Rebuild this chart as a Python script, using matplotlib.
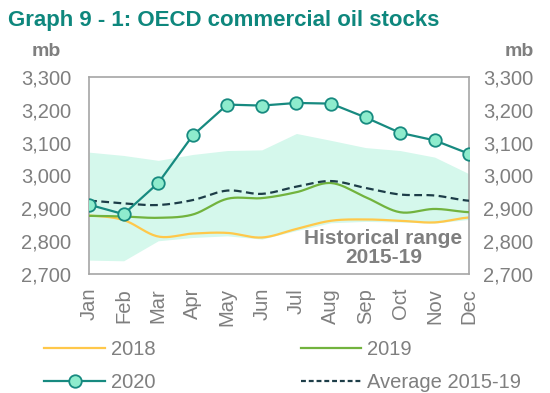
import numpy as np
import matplotlib
matplotlib.use("Agg")
import matplotlib.pyplot as plt
from matplotlib.lines import Line2D

plt.rcParams['font.family'] = ['Liberation Sans', 'DejaVu Sans']

# data (mb)
months = ['Jan', 'Feb', 'Mar', 'Apr', 'May', 'Jun', 'Jul', 'Aug', 'Sep', 'Oct', 'Nov', 'Dec']
range_hi = [3071, 3061, 3046, 3064, 3076, 3078, 3128, 3107, 3085, 3076, 3056, 3005]
range_lo = [2742, 2740, 2801, 2811, 2816, 2806, 2832, 2856, 2860, 2858, 2855, 2866]
y2018 = [2878, 2864, 2814, 2823, 2825, 2811, 2837, 2862, 2866, 2862, 2857, 2872]
y2019 = [2877, 2875, 2871, 2881, 2929, 2931, 2949, 2977, 2934, 2888, 2898, 2888]
y2020 = [2911, 2882, 2977, 3122, 3216, 3213, 3221, 3219, 3177, 3130, 3107, 3066]
avg = [2923, 2915, 2910, 2925, 2954, 2944, 2966, 2983, 2962, 2942, 2939, 2923]

teal = '#178a80'
grey = '#7f7f7f'
fs = 14.5


def smooth(vals, n=20):
    # catmull-rom curve through the points, like excel smoothed lines
    p = np.array(vals, dtype=float)
    p = np.concatenate([[p[0]], p, [p[-1]]])
    xs, ys = [], []
    for i in range(1, len(p) - 2):
        t = np.linspace(0, 1, n, endpoint=False)
        p0, p1, p2, p3 = p[i - 1], p[i], p[i + 1], p[i + 2]
        yy = 0.5 * (2 * p1 + (-p0 + p2) * t + (2 * p0 - 5 * p1 + 4 * p2 - p3) * t ** 2
                    + (-p0 + 3 * p1 - 3 * p2 + p3) * t ** 3)
        xs.extend(i - 1 + t)
        ys.extend(yy)
    xs.append(len(vals) - 1)
    ys.append(vals[-1])
    return np.array(xs), np.array(ys)


fig = plt.figure(figsize=(5.5, 3.93), dpi=100)
ax = fig.add_axes([0.162, 0.303, 0.691, 0.501])
x = np.arange(len(months))

ax.fill_between(x, range_lo, range_hi, color='#d5f8ec', lw=0, zorder=1)
sx, sy = smooth(y2018)
ax.plot(sx, sy, color='#ffc84a', lw=1.6, zorder=2)
sx, sy = smooth(y2019)
ax.plot(sx, sy, color='#72b33e', lw=1.6, zorder=3)
sx, sy = smooth(avg)
ax.plot(sx, sy, color='#1d3d48', lw=1.6, ls=(0, (3.5, 2)), zorder=4)
ax.plot(x, y2020, color=teal, lw=1.6, marker='o', ms=9, mfc='#8eeccd', mec=teal, mew=1.3, zorder=5)

ax.text(8.52, 2780, 'Historical range\n2015-19', ha='center', va='center', fontsize=15,
        fontweight='bold', color=grey, linespacing=1.0, zorder=6)

ax.set_xlim(0, 11)
ax.set_ylim(2700, 3300)
yt = np.arange(2700, 3301, 100)
ax.set_yticks(yt)
ax.set_yticklabels([f'{v:,}' for v in yt])
ax.set_xticks(x)
ax.set_xticklabels(months, rotation=90)
ax.tick_params(length=0, labelsize=fs, colors=grey)
ax.tick_params(axis='y', pad=13)
ax.tick_params(axis='x', pad=10)
for s in ax.spines.values():
    s.set_color('#a6a6a6')
    s.set_linewidth(1.2)
ax2 = ax.twinx()
ax2.set_ylim(2700, 3300)
ax2.set_yticks(yt)
ax2.set_yticklabels([f'{v:,}' for v in yt])
ax2.tick_params(length=0, labelsize=fs, colors=grey, pad=10)
for s in ax2.spines.values():
    s.set_visible(False)

fig.text(0.015, 0.949, 'Graph 9 - 1: OECD commercial oil stocks', fontsize=16,
         fontweight='bold', color='#0e877d', va='center')
fig.text(0.058, 0.868, 'mb', fontsize=14, fontweight='bold', color=grey, va='center')
fig.text(0.918, 0.868, 'mb', fontsize=14, fontweight='bold', color=grey, va='center')

handles = [
    Line2D([], [], color='#ffc84a', lw=1.6),
    Line2D([], [], color=teal, lw=1.6, marker='o', ms=9, mfc='#8eeccd', mec=teal, mew=1.3),
    Line2D([], [], color='#72b33e', lw=1.6),
    Line2D([], [], color='#1d3d48', lw=1.6, ls=(0, (2.2, 1.3))),
]
labels = ['2018', '2020', '2019', 'Average 2015-19']
leg = fig.legend(handles, labels, ncol=2, loc='center', bbox_to_anchor=(0.514, 0.069),
                 frameon=False, fontsize=fs, handlelength=3.0, handletextpad=0.3,
                 columnspacing=7.2, labelspacing=0.68)
for t in leg.get_texts():
    t.set_color(grey)

fig.savefig('out.png', dpi=100)
